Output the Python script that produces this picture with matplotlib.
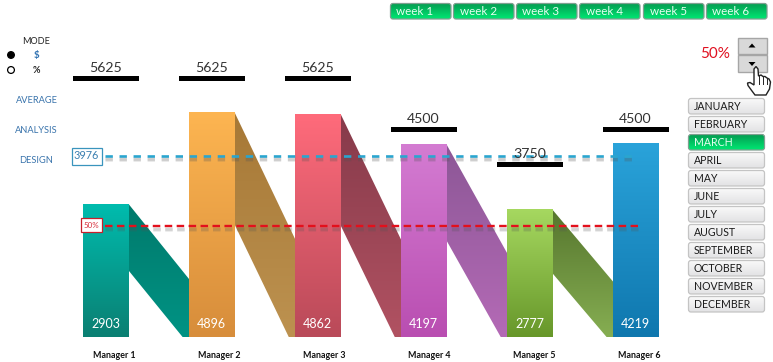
import numpy as np
import matplotlib
matplotlib.use("Agg")
import matplotlib.pyplot as plt
from matplotlib.colors import LinearSegmentedColormap
from matplotlib.patches import Polygon, FancyBboxPatch, Rectangle, Circle

plt.rcParams['font.family'] = ['Lato', 'DejaVu Sans']
plt.rcParams['lines.scale_dashes'] = False

managers = ["Manager 1", "Manager 2", "Manager 3", "Manager 4", "Manager 5", "Manager 6"]
actual = [2903, 4896, 4862, 4197, 2777, 4219]
target = [5625, 5625, 5625, 4500, 3750, 4500]
average_value = 3976
percent_value = 2445
percent_label = "50%"
weeks = ["week 1", "week 2", "week 3", "week 4", "week 5", "week 6"]
months = ["JANUARY", "FEBRUARY", "MARCH", "APRIL", "MAY", "JUNE", "JULY", "AUGUST",
          "SEPTEMBER", "OCTOBER", "NOVEMBER", "DECEMBER"]
selected_month = "MARCH"
side_labels = ["AVERAGE", "ANALYSIS", "DESIGN"]

bar_colors = [("#00bcae", "#0b7f72"), ("#fdb551", "#d78d3b"), ("#ff6b7b", "#b94a59"),
              ("#d47cd2", "#b94eb1"), ("#a6d860", "#67972a"), ("#2aa3da", "#0f77ae")]
shade_colors = [("#007a6c", "#009384"), ("#a67836", "#bd9250"), ("#863a4a", "#b15262"),
                ("#8c5796", "#b46ab6"), ("#56762e", "#86ae52")]

W, H = 773, 362
BASE = 337.5
SCALE = 0.0458
STEP = 106.0
X0 = 106.0

fig = plt.figure(figsize=(W / 100, H / 100), dpi=100, facecolor="white")
ax = fig.add_axes([0, 0, 1, 1])
ax.axis("off")
xlim = ((0 - X0) / STEP, (W - X0) / STEP)
ylim = ((BASE - H) / SCALE, BASE / SCALE)

BW = 46 / STEP      # bar width
TW = 66 / STEP      # target bar width
GAP = 6 / STEP      # shadow foot offset


def grad(c1, c2, n=256):
    return LinearSegmentedColormap.from_list("g", [c1, c2], N=n)


def gradient(a, extent, c1, c2, zorder, clip=None):
    img = np.linspace(0, 1, 256).reshape(-1, 1)
    im = a.imshow(img, extent=extent, origin="upper", aspect="auto",
                  cmap=grad(c1, c2), vmin=0, vmax=1, zorder=zorder, interpolation="bilinear")
    if clip is not None:
        im.set_clip_path(clip)
    return im


for i, v in enumerate(actual):
    left, right = i - BW / 2, i + BW / 2
    gradient(ax, (left, right, 0, v), bar_colors[i][0], bar_colors[i][1], 3)
    ax.text(i - 0.005, 285, str(v), color="white", fontsize=9.0,
            ha="center", va="center", zorder=6)
    if i < len(actual) - 1:
        nl = i + 1 - BW / 2
        poly = Polygon([(right, v), (nl, 0.44 * v), (nl, 0), (nl - GAP, 0), (right, 0.5 * v)],
                       closed=True, facecolor="none", edgecolor="none", zorder=2)
        ax.add_patch(poly)
        gradient(ax, (right, nl, 0, v), shade_colors[i][0], shade_colors[i][1], 2, poly)

TSHIFT = 1.5 / SCALE
for i, t in enumerate(target):
    ax.bar(i, 5 / SCALE, width=TW, bottom=t + TSHIFT - 2.5 / SCALE, color="black", zorder=5)
    ax.text(i - 0.005, t + TSHIFT + 10.5 / SCALE, str(t), color="#333333", fontsize=10.2,
            ha="center", va="center", zorder=7)

# average and percentage lines, each with a soft shadow
LSHIFT = 0.4 / SCALE
blue_dash = (0, (5.3, 4.8))
red_dash = (0, (5.4, 3.2))
lx0, lx1 = -0.005, 4.96
avg_y = average_value - LSHIFT
ax.plot([lx0, lx1], [avg_y - 3.5 / SCALE] * 2, color="#555555", alpha=0.12, lw=3.6,
        linestyle=blue_dash, zorder=4)
ax.plot([lx0, lx1], [avg_y - 3.5 / SCALE] * 2, color="#555555", alpha=0.2, lw=2.0,
        linestyle=blue_dash, zorder=4)
ax.plot([lx0, lx1], [avg_y] * 2, color="#2aa5cf", lw=1.9, linestyle=blue_dash, zorder=4.5)
lx1 = 5.02
ax.plot([lx0, lx1], [percent_value - 3.5 / SCALE] * 2, color="#555555", alpha=0.1, lw=3.6,
        linestyle=red_dash, zorder=4)
ax.plot([lx0, lx1], [percent_value - 3.5 / SCALE] * 2, color="#555555", alpha=0.18, lw=2.0,
        linestyle=red_dash, zorder=4)
ax.plot([lx0, lx1], [percent_value] * 2, color="#e3101c", lw=1.7, linestyle=red_dash, zorder=4.5)

ax.set_xlim(*xlim)
ax.set_ylim(*ylim)

# interface layer in pixel coordinates
ui = fig.add_axes([0, 0, 1, 1], facecolor="none")
ui.axis("off")


def button(x, y, w, h, label, selected, fs=8.0, text_x=None, ha="left"):
    edge = "#7f9f90" if selected else "#c4c4c4"
    patch = FancyBboxPatch((x, y), w, h, boxstyle="round,pad=0,rounding_size=2.5",
                           facecolor="none", edgecolor=edge, lw=0.9, zorder=3)
    ui.add_patch(patch)
    if selected:
        gradient(ui, (x, x + w, y + h, y), "#049a50", "#00e873", 2, patch)
        color = "#e6fff0"
    else:
        gradient(ui, (x, x + w, y + h, y), "#fafafa", "#e2e2e4", 2, patch)
        color = "#1a1a1a"
    ui.text(text_x, y + h / 2 + 0.3, label, color=color, fontsize=fs, ha=ha, va="center", zorder=4)


week_x = [390.5, 453.5, 516.5, 579.5, 643.5, 706.5]
for x, lab in zip(week_x, weeks):
    button(x, 3.5, 60.5, 15.5, lab, True, fs=8.4, text_x=x + 6)

for i, lab in enumerate(months):
    y = 98.5 + i * 18.0
    button(688.5, y, 76, 15.5, lab, lab == selected_month, fs=7.6, text_x=694)

ui.text(36, 41, "MODE", color="#222222", fontsize=6.6, ha="center", va="center")
ui.text(36, 55.5, "$", color="#2c6fb0", fontsize=7, fontweight="bold", ha="center", va="center")
ui.text(36, 70.5, "%", color="#222222", fontsize=6.6, fontweight="bold", ha="center", va="center")
ui.add_patch(Circle((11, 55), 3.4, facecolor="black", edgecolor="black", lw=0.8))
ui.add_patch(Circle((11, 70), 3.4, facecolor="white", edgecolor="black", lw=0.9))
for lab, x, y in zip(side_labels, [36.5, 36, 36], [100.5, 130.5, 160.5]):
    ui.text(x, y, lab, color="#3a74ac", fontsize=6.7, ha="center", va="center")

ui.add_patch(Rectangle((71.5, 147.5), 30, 17, facecolor="white", edgecolor="#3a94bd", lw=0.9, zorder=6))
ui.text(86, 155.5, str(average_value), color="#3a7fb0", fontsize=7.8, ha="center", va="center", zorder=7)
ui.add_patch(Rectangle((80.5, 217.5), 21, 14, facecolor="white", edgecolor="#c8202c", lw=0.9, zorder=6))
ui.text(91, 225, percent_label, color="#d8303c", fontsize=5.8, ha="center", va="center", zorder=7)

for i, m in enumerate(managers):
    ui.text(114.6 + 105 * i, 355.5, m, color="#111111", fontsize=6.4, fontweight="bold",
            ha="center", va="center")

ui.text(715, 54.5, percent_label, color="#e01020", fontsize=11, ha="center", va="center")

# spinner
ui.add_patch(Rectangle((737.5, 37.5), 29, 16, facecolor="#d9d9d9", edgecolor="#a6a6a6", lw=1.0))
ui.add_patch(Rectangle((737.5, 54.5), 29, 17, facecolor="#d9d9d9", edgecolor="#a6a6a6", lw=1.0))
ui.add_patch(Polygon([(748.5, 47.5), (755.5, 47.5), (752, 43.5)], facecolor="black", edgecolor="none"))
ui.add_patch(Polygon([(748.5, 62), (755.5, 62), (752, 66)], facecolor="black", edgecolor="none"))

# hand cursor
hand = [(754, 69), (756, 66.5), (758, 69), (758.5, 76), (761, 75), (763, 76.5), (765, 76.5), (767, 78),
        (769, 79), (770.5, 82), (769.5, 89), (766, 95), (755, 95), (752, 91), (748, 85.5),
        (747.5, 83), (750, 82.5), (754, 85)]
ui.add_patch(Polygon(hand, closed=True, facecolor="white", edgecolor="#222222", lw=1.0, zorder=8))
for x0, y0, y1 in [(758.5, 76, 84), (763, 76.5, 84), (767, 78, 84)]:
    ui.plot([x0, x0], [y0, y1], color="#222222", lw=0.7, zorder=9)

ui.set_xlim(0, W)
ui.set_ylim(H, 0)

fig.savefig("out.png", dpi=100)
